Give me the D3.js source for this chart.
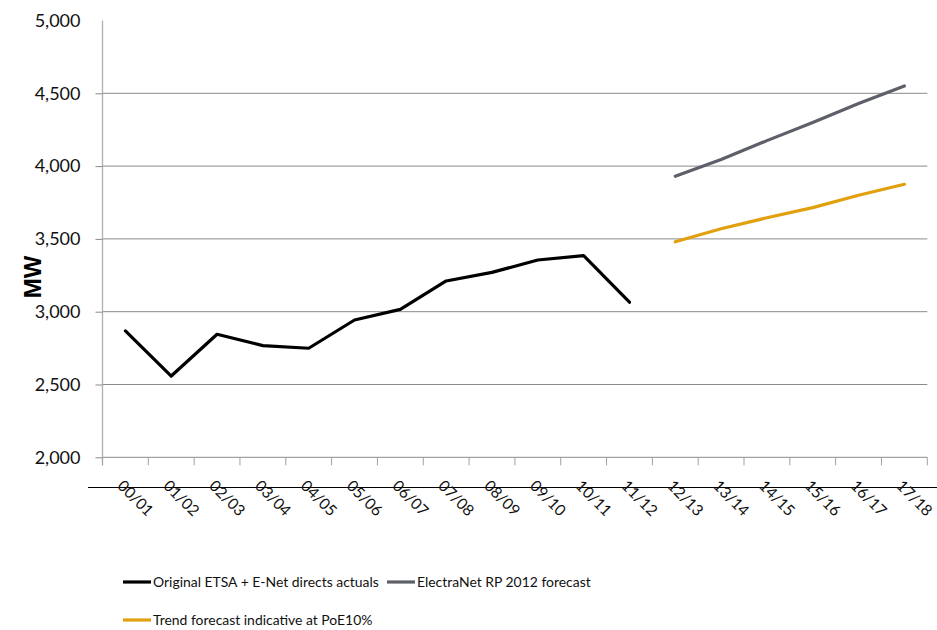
<!DOCTYPE html>
<html>
<head>
<meta charset="utf-8">
<script src="https://cdn.jsdelivr.net/npm/d3@7"></script>
<style>
  html, body { margin: 0; padding: 0; background: #fff; }
  svg { display: block; font-family: Lato, "Open Sans", sans-serif; }
</style>
</head>
<body>
<svg id="chart" width="937" height="630"></svg>
<script>
// Financial years on the category axis
const years = ["00/01","01/02","02/03","03/04","04/05","05/06","06/07","07/08","08/09",
               "09/10","10/11","11/12","12/13","13/14","14/15","15/16","16/17","17/18"];

// Maximum demand, MW
const actualYears = years.slice(0, 12);
const actualValues = [2868, 2558, 2845, 2767, 2749, 2943, 3016, 3211, 3270, 3355, 3385, 3065];

const forecastYears = years.slice(12);
const electranetValues = [3930, 4045, 4175, 4300, 4430, 4550];
const trendValues = [3480, 3570, 3645, 3715, 3800, 3875];

const yTicks = [2000, 2500, 3000, 3500, 4000, 4500, 5000];

const seriesNames = ["Original ETSA + E-Net directs actuals",
                     "ElectraNet RP 2012 forecast",
                     "Trend forecast indicative at PoE10%"];
const seriesColors = ["#000000", "#5d6068", "#e2a00e"];

const svg = d3.select("#chart");
const margin = { left: 102.5, top: 20.5 };
const W = 937;

const x = d3.scaleBand().domain(years).range([margin.left, 927.3]).padding(0);
const y = d3.scaleLinear().domain([2000, 5000]).range([457.3, margin.top]);
const cx = d => x(d) + x.bandwidth() / 2;

// horizontal gridlines
svg.append("g").selectAll("line")
  .data(yTicks.filter(t => t < 5000))
  .join("line")
  .attr("x1", margin.left).attr("x2", x.range()[1])
  .attr("y1", d => y(d)).attr("y2", d => y(d))
  .attr("stroke", "#8a8a8a").attr("stroke-width", 1);

// value axis
const yAxis = svg.append("g")
  .attr("transform", `translate(${margin.left},0)`)
  .call(d3.axisLeft(y).tickValues(yTicks).tickSize(7).tickPadding(15)
        .tickFormat(d3.format(",")));
yAxis.select(".domain").attr("stroke", "#b0b0b0").attr("stroke-width", 1.3)
  .attr("d", `M0,${y(5000)}V${y(2000) + 8}`);
yAxis.selectAll(".tick line").attr("stroke", "#8a8a8a");
yAxis.selectAll(".tick").filter(d => d === 5000).select("line").remove();
yAxis.selectAll("text").attr("font-size", 18).attr("fill", "#111")
  .attr("font-family", "Lato, sans-serif");

// category axis tick marks at band edges
const edges = years.map(d => x(d)).concat([x.range()[1]]);
svg.append("g").selectAll("line")
  .data(edges)
  .join("line")
  .attr("x1", d => d).attr("x2", d => d)
  .attr("y1", y(2000)).attr("y2", y(2000) + 8)
  .attr("stroke", "#a0a0a0").attr("stroke-width", 1);

// black rule through the label row
svg.append("line")
  .attr("x1", 88).attr("x2", W)
  .attr("y1", 487.5).attr("y2", 487.5)
  .attr("stroke", "#000").attr("stroke-width", 1.2);

// category labels, rotated
svg.append("g").selectAll("text")
  .data(years)
  .join("text")
  .attr("transform", d => `translate(${cx(d) - 5},${483}) rotate(45)`)
  .attr("font-size", 15.5).attr("fill", "#111")
  .attr("text-anchor", "start")
  .attr("dy", "0.35em")
  .text(d => d);

// axis title
svg.append("text")
  .attr("transform", `translate(40.5,${277}) rotate(-90)`)
  .attr("text-anchor", "middle")
  .attr("font-size", 24).attr("font-weight", "bold")
  .attr("font-family", "'Liberation Sans', Arial, sans-serif")
  .text("MW");

// series lines
const line = d3.line().x(d => cx(d[0])).y(d => y(d[1]));
const series = [
  d3.zip(actualYears, actualValues),
  d3.zip(forecastYears, electranetValues),
  d3.zip(forecastYears, trendValues)
];
svg.append("g").selectAll("path")
  .data(series)
  .join("path")
  .attr("d", line)
  .attr("fill", "none")
  .attr("stroke", (d, i) => seriesColors[i])
  .attr("stroke-width", 3.2)
  .attr("stroke-linejoin", "round")
  .attr("stroke-linecap", "round");

// legend: swatch + label; font size reduced until the first label fits its slot
const legendPos = [[123, 582], [387, 582], [123, 620]];
const legendSlot = 226;
const lg = svg.append("g").selectAll("g")
  .data(seriesNames)
  .join("g")
  .attr("transform", (d, i) => `translate(${legendPos[i][0]},${legendPos[i][1]})`);
lg.append("line")
  .attr("x1", 0).attr("x2", 28).attr("y1", 0).attr("y2", 0)
  .attr("stroke", (d, i) => seriesColors[i]).attr("stroke-width", 3.2);
const legendText = lg.append("text")
  .attr("x", 30).attr("dy", "0.35em")
  .attr("font-size", 18).attr("fill", "#111")
  .text(d => d);
const firstLen = legendText.node().getComputedTextLength();
const legendFs = Math.min(18, 18 * legendSlot / firstLen);
legendText.attr("font-size", legendFs);
</script>
</body>
</html>
